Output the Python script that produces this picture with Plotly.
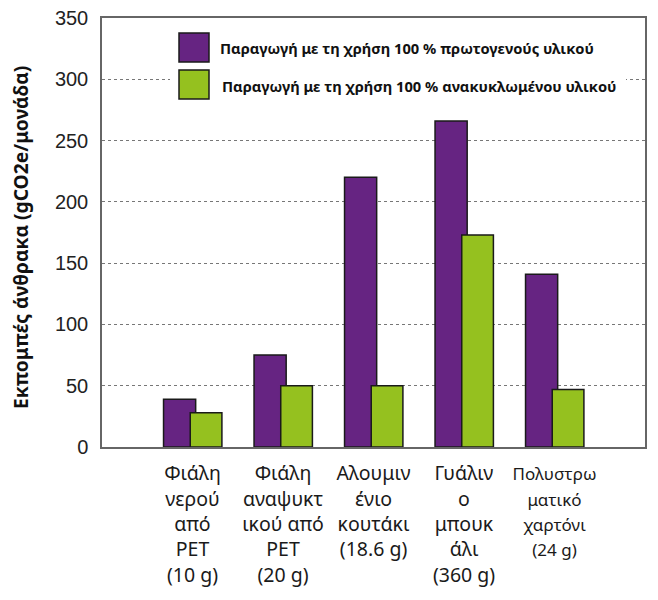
import plotly.graph_objects as go

categories = ["Φιάλη<br>νερού<br>από<br>PET<br>(10 g)",
              "Φιάλη<br>αναψυκτ<br>ικού από<br>PET<br>(20 g)",
              "Αλουμιν<br>ένιο<br>κουτάκι<br>(18.6 g)",
              "Γυάλιν<br>ο<br>μπουκ<br>άλι<br>(360 g)",
              "<span style='font-size:17px'>Πολυστρω<br>ματικό<br>χαρτόνι<br>(24 g)</span>"]
virgin = [39, 75, 220, 266, 141]
recycled = [28, 50, 50, 173, 47]
series_names = ["Παραγωγή με τη χρήση 100 % πρωτογενούς υλικού",
                "Παραγωγή με τη χρήση 100 % ανακυκλωμένου υλικού"]
y_ticks = [0, 50, 100, 150, 200, 250, 300, 350]

PURPLE = "#662482"
GREEN = "#95C11F"
OFF = 8  # page body margin
W, H = 658 - OFF, 600 - OFF
L, R, T, B = 102 - OFF, 13, 18 - OFF, 153
pw, ph = W - L - R, H - T - B

def px(x):
    return (x - OFF - L) / pw

def py(y):
    return 1 - (y - OFF - T) / ph

xs = list(range(len(categories)))
fig = go.Figure()
fig.add_trace(go.Bar(x=xs, y=virgin, name=series_names[0], marker=dict(color=PURPLE, line=dict(color="#1a1a1a", width=1.5)),
                     offset=-0.32, width=0.355, showlegend=False))
fig.add_trace(go.Bar(x=xs, y=recycled, name=series_names[1], marker=dict(color=GREEN, line=dict(color="#1a1a1a", width=1.5)),
                     offset=-0.025, width=0.35, showlegend=False))

shapes = [
    dict(type="rect", xref="paper", yref="paper", x0=px(170), x1=px(626), y0=py(92), y1=py(70),
         fillcolor="white", line=dict(width=0), layer="above"),
    dict(type="rect", xref="paper", yref="paper", x0=px(179), x1=px(209), y0=py(62), y1=py(33),
         fillcolor=PURPLE, line=dict(color="#1a1a1a", width=1.5), layer="above"),
    dict(type="rect", xref="paper", yref="paper", x0=px(179), x1=px(209), y0=py(99), y1=py(70),
         fillcolor=GREEN, line=dict(color="#1a1a1a", width=1.5), layer="above"),
]
annotations = [
    dict(xref="paper", yref="paper", x=px(218), y=py(48), xanchor="left", yanchor="middle", showarrow=False,
         text="<b>" + series_names[0] + "</b>", font=dict(family="Noto Sans", size=14.7, color="#111")),
    dict(xref="paper", yref="paper", x=px(220), y=py(86), xanchor="left", yanchor="middle", showarrow=False,
         text="<b>" + series_names[1] + "</b>", font=dict(family="Noto Sans", size=14.7, color="#111")),
    dict(xref="paper", yref="paper", x=px(21), y=py(238), xanchor="center", yanchor="middle", showarrow=False,
         textangle=-90, text="<b>Εκπομπές άνθρακα (gCO2e/μονάδα)</b>",
         font=dict(family="Noto Sans", size=19.2, color="#111")),
]

fig.update_layout(
    width=W, height=H, margin=dict(l=L, r=R, t=T, b=B),
    paper_bgcolor="white", plot_bgcolor="white",
    barmode="overlay", shapes=shapes, annotations=annotations,
    xaxis=dict(range=[-1, 5], tickmode="array", tickvals=xs, ticktext=categories, automargin=False,
               showgrid=False, showline=True, linecolor="#666", linewidth=1.5, mirror=True,
               ticks="", ticklabelstandoff=8, ticklabeloverflow="allow",
               tickfont=dict(family="Noto Sans", size=19.5, color="#1a1a1a"), zeroline=False),
    yaxis=dict(range=[0, 350], tickmode="array", tickvals=y_ticks, automargin=False,
               showgrid=True, gridcolor="#777", gridwidth=1.2, griddash="dot",
               showline=True, linecolor="#666", linewidth=1.5, mirror=True,
               ticks="", ticklabelstandoff=8, zeroline=False, ticklabeloverflow="allow",
               tickfont=dict(family="Liberation Sans", size=20, color="#222")),
)

fig.write_html("out.html")
